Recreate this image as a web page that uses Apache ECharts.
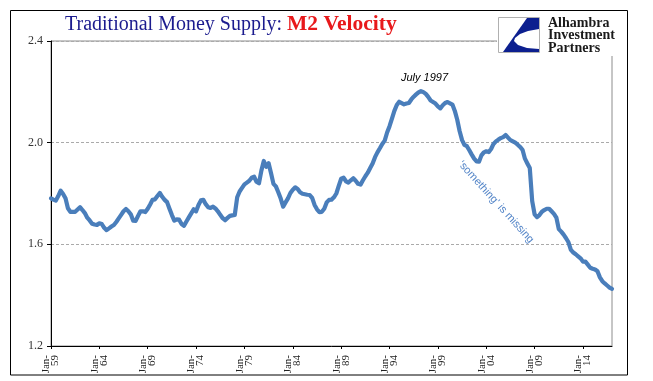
<!DOCTYPE html>
<html><head><meta charset="utf-8">
<script src="https://cdn.jsdelivr.net/npm/echarts@6/dist/echarts.min.js"></script>
<style>html,body{margin:0;padding:0;background:#fff}#c{width:653px;height:381px}</style>
</head><body><div id="c"></div>
<script>
// Quarterly M2 velocity, 1959Q1 .. 2017Q1
const startYear = 1959;
const endYear = 2017;
const quarterMonths = ['Jan', 'Apr', 'Jul', 'Oct'];
const velocity = [
  1.781, 1.776, 1.772, 1.790,  // 1959
  1.811, 1.798, 1.781, 1.742,  // 1960
  1.728, 1.728, 1.728, 1.737,  // 1961
  1.746, 1.735, 1.723, 1.705,  // 1962
  1.694, 1.681, 1.678, 1.676,  // 1963
  1.683, 1.680, 1.665, 1.656,  // 1964
  1.663, 1.670, 1.676, 1.688,  // 1965
  1.702, 1.716, 1.730, 1.739,  // 1966
  1.730, 1.718, 1.693, 1.692,  // 1967
  1.712, 1.730, 1.730, 1.727,  // 1968
  1.740, 1.757, 1.775, 1.777,  // 1969
  1.790, 1.802, 1.787, 1.775,  // 1970
  1.766, 1.740, 1.715, 1.693,  // 1971
  1.698, 1.697, 1.680, 1.673,  // 1972
  1.690, 1.706, 1.722, 1.738,  // 1973
  1.730, 1.755, 1.773, 1.775,  // 1974
  1.758, 1.746, 1.743, 1.748,  // 1975
  1.741, 1.730, 1.716, 1.703,  // 1976
  1.695, 1.704, 1.712, 1.714,  // 1977
  1.716, 1.785, 1.808, 1.822,  // 1978
  1.836, 1.843, 1.850, 1.862,  // 1979
  1.866, 1.846, 1.840, 1.890,  // 1980
  1.928, 1.905, 1.919, 1.880,  // 1981
  1.838, 1.828, 1.805, 1.780,  // 1982
  1.748, 1.765, 1.781, 1.802,  // 1983
  1.815, 1.824, 1.818, 1.805,  // 1984
  1.799, 1.797, 1.795, 1.794,  // 1985
  1.783, 1.755, 1.738, 1.727,  // 1986
  1.728, 1.740, 1.765, 1.775,  // 1987
  1.776, 1.785, 1.800, 1.830,  // 1988
  1.858, 1.862, 1.848, 1.843,  // 1989
  1.852, 1.860, 1.850, 1.838,  // 1990
  1.835, 1.852, 1.868, 1.882,  // 1991
  1.900, 1.918, 1.943, 1.962,  // 1992
  1.978, 1.995, 2.008, 2.040,  // 1993
  2.065, 2.095, 2.125, 2.148,  // 1994
  2.161, 2.156, 2.151, 2.154,  // 1995
  2.156, 2.170, 2.181, 2.190,  // 1996
  2.198, 2.203, 2.199, 2.192,  // 1997
  2.180, 2.166, 2.160, 2.154,  // 1998
  2.143, 2.135, 2.147, 2.156,  // 1999
  2.160, 2.155, 2.150, 2.125,  // 2000
  2.090, 2.045, 2.010, 1.991,  // 2001
  1.986, 1.970, 1.953, 1.937,  // 2002
  1.926, 1.925, 1.950, 1.962,  // 2003
  1.966, 1.963, 1.975, 1.995,  // 2004
  2.005, 2.012, 2.018, 2.022,  // 2005
  2.030, 2.020, 2.010, 2.005,  // 2006
  2.000, 1.992, 1.983, 1.972,  // 2007
  1.937, 1.918, 1.900, 1.770,  // 2008
  1.718, 1.707, 1.715, 1.728,  // 2009
  1.735, 1.740, 1.740, 1.730,  // 2010
  1.720, 1.705, 1.660, 1.650,  // 2011
  1.638, 1.624, 1.608, 1.578,  // 2012
  1.568, 1.561, 1.553, 1.545,  // 2013
  1.532, 1.532, 1.520, 1.508,  // 2014
  1.504, 1.501, 1.494, 1.470,  // 2015
  1.455, 1.446, 1.438, 1.430,  // 2016
  1.425                        // 2017
];
const yMin = 1.2, yMax = 2.4, yStep = 0.4;
const titleMain = 'Traditional Money Supply: ';
const titleRed = 'M2 Velocity';
const peakNote = 'July 1997';
const slopeNote = '\u2018something\u2019 is missing';
const logoLines = ['Alhambra', 'Investment', 'Partners'];

const categories = [];
for (let y = startYear; y <= endYear; y++) {
  for (const m of quarterMonths) {
    if (categories.length < velocity.length) categories.push(m + '-' + String(y).slice(2));
  }
}

const chart = echarts.init(document.getElementById('c'), null, {renderer: 'canvas'});
const serif = 'Liberation Serif, Times New Roman, serif';
const sans = 'Liberation Sans, Arial, sans-serif';

chart.setOption({
  animation: false,
  backgroundColor: '#fff',
  title: {
    left: 65, top: 14, padding: 0,
    text: '{a|' + titleMain + '}{b|' + titleRed + '}',
    textStyle: {
      fontWeight: 'normal',
      rich: {
        a: {fontFamily: serif, fontSize: 20, fontWeight: 'normal', color: '#1b1b8e', lineHeight: 21},
        b: {fontFamily: serif, fontSize: 21.5, fontWeight: 'bold', color: '#e8191b', lineHeight: 21}
      }
    }
  },
  grid: {left: 51, right: 41, top: 41, bottom: 35, show: true, borderColor: '#8c8c8c', borderWidth: 1, backgroundColor: 'transparent'},
  xAxis: {
    type: 'category',
    data: categories,
    boundaryGap: false,
    axisLine: {lineStyle: {color: '#000', width: 1}},
    axisTick: {show: true, interval: 19, length: 3, lineStyle: {color: '#000'}},
    axisLabel: {
      interval: 19, rotate: 90, margin: 9,
      fontFamily: serif, fontSize: 11, color: '#222', lineHeight: 9,
      formatter: v => v.replace('-', '-\n')
    },
    splitLine: {show: false}
  },
  yAxis: {
    type: 'value',
    min: yMin, max: yMax, interval: yStep,
    axisLine: {show: true, lineStyle: {color: '#000', width: 1}},
    axisTick: {show: true, length: 4, lineStyle: {color: '#000'}},
    axisLabel: {fontFamily: serif, fontSize: 12, color: '#333', margin: 8, formatter: v => v.toFixed(1)},
    splitLine: {show: true, lineStyle: {color: '#aaaaaa', type: [3, 2], width: 1}}
  },
  series: [{
    type: 'line',
    data: velocity,
    showSymbol: false,
    smooth: false,
    lineStyle: {color: '#4a7ebb', width: 4.2, join: 'round', cap: 'round'},
    z: 3
  }],
  graphic: [
    {type: 'rect', z: 1, shape: {x: 10.5, y: 10.5, width: 617, height: 364.5}, style: {fill: 'none', stroke: '#000', lineWidth: 1}},
    {type: 'rect', z: 50, shape: {x: 497, y: 12, width: 126, height: 44}, style: {fill: '#fff'}},
    {type: 'rect', z: 51, shape: {x: 498.5, y: 17.5, width: 41, height: 35}, style: {fill: '#fff', stroke: '#b0b0b0', lineWidth: 1}},
    {type: 'polygon', z: 52, shape: {points: [[539, 18], [527, 18], [503, 52], [539, 52]]}, style: {fill: '#0c1f8f'}},
    {type: 'polygon', z: 53, shape: {points: [[539, 29], [528, 31], [520, 34], [515, 38], [514, 41], [518, 45], [527, 48], [539, 49]]}, style: {fill: '#fff'}},
    {type: 'text', z: 54, left: 548, top: 16, style: {text: logoLines.join('\n'), font: 'bold 14px ' + serif, lineHeight: 12.5, fill: '#1a1a1a'}},
    {type: 'text', z: 60, left: 401, top: 72, style: {text: peakNote, font: 'italic 11px ' + sans, fill: '#000'}},
    {type: 'text', z: 60, x: 496, y: 202, rotation: -0.833, style: {text: slopeNote, font: '11px ' + sans, fill: '#5586c8', align: 'center', verticalAlign: 'middle'}}
  ]
});
</script>
</body></html>
